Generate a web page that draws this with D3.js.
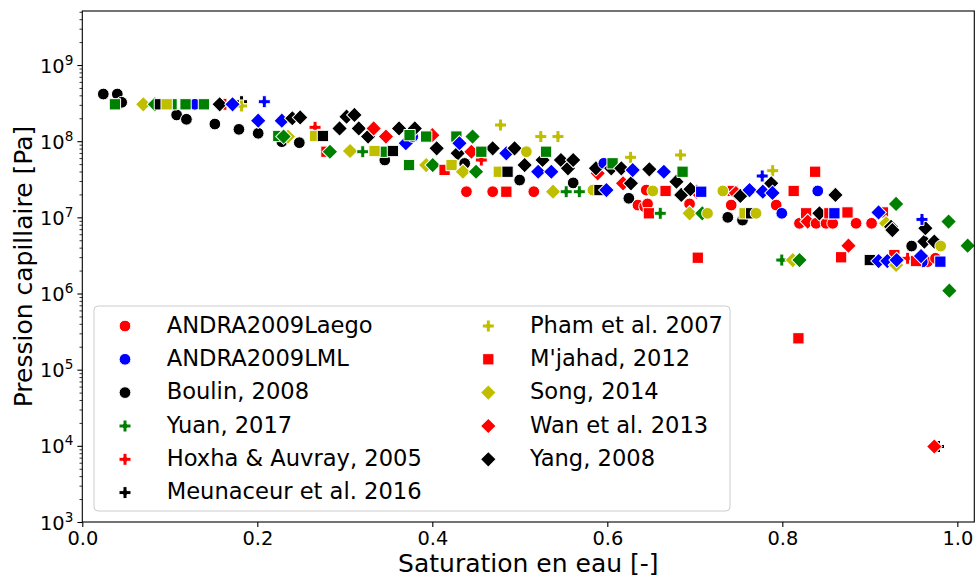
<!DOCTYPE html>
<html><head><meta charset="utf-8">
<script src="https://cdn.jsdelivr.net/npm/d3@7"></script>
<style>body{margin:0;background:#fff;} svg{display:block;font-family:"DejaVu Sans",sans-serif;}</style>
</head><body><svg id="c" width="977" height="578"></svg>
<script>
// ---------- data: [saturation, pressure Pa] ----------
const ANDRA2009Laego = [[0.439,2.17e7],[0.469,2.17e7],[0.516,2.17e7],[0.6445,2.28e7],[0.635,1.45e7],[0.646,1.5e7],[0.6426,1.38e7],[0.694,1.5e7],[0.7416,1.45e7],[0.793,1.45e7],[0.8196,8.35e6],[0.8386,8.35e6],[0.850,8.35e6],[0.8576,8.35e6],[0.8843,8.35e6],[0.902,8.35e6],[0.966,2.62e6],[0.975,2.9e6]];
const ANDRA2009LML = [[0.1287,3.05e8],[0.3776,1.15e8],[0.596,5.12e7],[0.7994,1.13e7],[0.8405,2.22e7],[0.960,2.6e6]];
const Boulin2008 = [[0.024,4.16e8],[0.040,4.16e8],[0.045,3.24e8],[0.1078,2.21e8],[0.119,1.94e8],[0.1515,1.68e8],[0.179,1.43e8],[0.201,1.27e8],[0.228,9.85e7],[0.248,9.55e7],[0.3457,5.66e7],[0.437,5.1e7],[0.4998,3.09e7],[0.561,2.83e7],[0.6246,1.78e7],[0.7377,1.0e7],[0.7545,9.2e6],[0.9478,4.2e6]];
const Yuan2017 = [[0.3205,7.27e7],[0.553,2.17e7],[0.568,2.17e7],[0.6605,1.13e7],[0.7994,2.75e6]];
const Hoxha2005 = [[0.163,3.05e8],[0.266,1.52e8],[0.456,5.66e7],[0.9432,2.9e6]];
const Meunaceur2016 = [[0.182,3.3e8],[0.9785,9.8e3]];
const Pham2007 = [[0.182,2.9e8],[0.478,1.63e8],[0.524,1.15e8],[0.5436,1.15e8],[0.6266,6.14e7],[0.6837,6.58e7],[0.789,4.1e7]];
const Mjahad2012 = [[0.279,7.27e7],[0.414,4.2e7],[0.4846,2.17e7],[0.6475,1.13e7],[0.6666,2.22e7],[0.7034,2.95e6],[0.7434,2.22e7],[0.813,2.22e7],[0.8375,3.97e7],[0.8272,1.13e7],[0.8538,1.13e7],[0.8745,1.16e7],[0.8672,2.99e6],[0.915,1.16e7],[0.928,3.2e6],[0.9528,2.67e6],[0.8184,2.58e5]];
const Song2014 = [[0.0697,3.05e8],[0.235,1.15e8],[0.306,7.43e7],[0.393,4.86e7],[0.435,3.97e7],[0.538,2.17e7],[0.694,1.13e7],[0.812,2.75e6],[0.9186,8.35e6],[0.930,2.37e6]];
const Wan2013 = [[0.333,1.47e8],[0.347,1.15e8],[0.400,1.2e8],[0.4447,7.27e7],[0.589,3.78e7],[0.618,2.8e7],[0.702,2.17e7],[0.747,2.08e7],[0.829,8.8e6],[0.8756,4.25e6],[0.9737,9.8e3]];
const Yang2008 = [[0.157,3.05e8],[0.240,2.0e8],[0.249,2.05e8],[0.294,1.47e8],[0.302,2.1e8],[0.311,2.21e8],[0.316,1.47e8],[0.3266,1.15e8],[0.362,1.47e8],[0.380,1.47e8],[0.405,8.06e7],[0.429,6.93e7],[0.469,8.06e7],[0.494,8.06e7],[0.5055,4.86e7],[0.526,5.66e7],[0.547,5.66e7],[0.555,4.4e7],[0.561,5.66e7],[0.587,4.4e7],[0.6045,4.4e7],[0.616,4.4e7],[0.627,2.8e7],[0.648,4.27e7],[0.679,2.94e7],[0.6845,1.97e7],[0.695,2.34e7],[0.752,1.91e7],[0.7873,2.8e7],[0.8424,1.13e7],[0.8607,1.97e7],[0.9243,7.5e6],[0.9258,6.8e6],[0.9635,7.2e6],[0.9623,4.8e6],[0.9737,4.8e6]];
// series present in the plot but not in the legend
const greenSquares = [[0.0373,3.05e8],[0.102,3.05e8],[0.118,3.05e8],[0.139,3.05e8],[0.224,1.17e8],[0.343,7.27e7],[0.3734,4.86e7],[0.374,1.2e8],[0.393,1.15e8],[0.4275,1.15e8],[0.456,7.27e7],[0.530,7.27e7],[0.606,5.12e7],[0.686,3.97e7]];
const greenDiamonds = [[0.083,3.05e8],[0.230,1.15e8],[0.283,7.27e7],[0.4005,4.86e7],[0.446,1.15e8],[0.450,3.97e7],[0.7085,1.13e7],[0.8196,2.75e6],[0.930,1.5e7],[0.990,8.8e6],[1.0118,4.25e6],[0.9909,1.09e6]];
const oliveSquares = [[0.0964,3.05e8],[0.266,1.17e8],[0.334,7.43e7],[0.422,4.86e7],[0.476,3.97e7],[0.7568,1.13e7]];
const blackSquares = [[0.0887,3.05e8],[0.275,1.17e8],[0.355,7.43e7],[0.486,3.97e7],[0.591,2.28e7],[0.7644,1.13e7],[0.900,2.75e6]];
const blueSquares = [[0.7073,2.17e7],[0.8595,1.13e7],[0.9806,2.62e6]];
const blueDiamonds = [[0.1717,3.05e8],[0.201,1.86e8],[0.228,1.86e8],[0.3697,9.4e7],[0.431,9.4e7],[0.4846,6.93e7],[0.521,3.97e7],[0.536,3.97e7],[0.599,2.28e7],[0.629,4.18e7],[0.6646,3.97e7],[0.7625,2.28e7],[0.7777,2.17e7],[0.7888,2.09e7],[0.910,1.16e7],[0.910,2.67e6],[0.920,2.67e6],[0.9307,2.75e6],[0.9585,3.1e6]];
const bluePluses = [[0.208,3.3e8],[0.777,3.49e7],[0.9596,9.4e6]];
const oliveCircles = [[0.5075,7.27e7],[0.5835,2.28e7],[0.652,2.22e7],[0.7145,1.13e7],[0.732,2.22e7],[0.770,1.13e7],[0.981,4.2e6]];

const legendLabels = ["ANDRA2009Laego","ANDRA2009LML","Boulin, 2008","Yuan, 2017","Hoxha & Auvray, 2005","Meunaceur et al. 2016","Pham et al. 2007","M'jahad, 2012","Song, 2014","Wan et al. 2013","Yang, 2008"];
const legendData = [ANDRA2009Laego,ANDRA2009LML,Boulin2008,Yuan2017,Hoxha2005,Meunaceur2016,Pham2007,Mjahad2012,Song2014,Wan2013,Yang2008];
const extraData = [greenSquares,greenDiamonds,oliveSquares,blackSquares,blueSquares,blueDiamonds,bluePluses,oliveCircles];
const xTicks = [0,0.2,0.4,0.6,0.8,1.0];
const yTicks = [1e3,1e4,1e5,1e6,1e7,1e8,1e9];

// ---------- styles ----------
const RED="#ff0000",BLUE="#0000ff",BLK="#000000",GRN="#008000",OLV="#bfbf00";
const legendStyles = [[RED,"o"],[BLUE,"o"],[BLK,"o"],[GRN,"P"],[RED,"P"],[BLK,"P"],[OLV,"P"],[RED,"s"],[OLV,"D"],[RED,"D"],[BLK,"D"]];
const extraStyles = [[GRN,"s"],[GRN,"D"],[OLV,"s"],[BLK,"s"],[BLUE,"s"],[BLUE,"D"],[BLUE,"P"],[OLV,"o"]];

const svg = d3.select("#c");
const L=82.3,R=974.3,T=11,B=522;
const x = d3.scaleLinear().domain([0,1.0194]).range([L,R]);
const y = d3.scaleLog().domain([1e3,5.12e9]).range([B,T]);

const shapes = {
  o: d3.symbol().type(d3.symbolCircle).size(108)(),
  s: d3.symbol().type(d3.symbolSquare).size(128)(),
  D: d3.symbol().type(d3.symbolSquare).size(122)(),
  P: d3.symbol().type(d3.symbolCross).size(80)()
};
function drawMarker(g, cx, cy, color, m){
  g.append("path").attr("d",shapes[m])
   .attr("transform",`translate(${cx},${cy})`+(m==="D"?" rotate(45)":""))
   .attr("fill",color).attr("stroke","#fff").attr("stroke-width",1);
}

// points (sorted by saturation, ties broken by series order)
const pts = svg.append("g");
const all = [];
legendData.forEach((d,i)=>d.forEach(p=>all.push([p,legendStyles[i],i])));
extraData.forEach((d,i)=>d.forEach(p=>all.push([p,extraStyles[i],20+i])));
all.sort((a,b)=>(Math.round(a[0][0]*50)-Math.round(b[0][0]*50))||(a[2]-b[2])||(a[0][0]-b[0][0]));
all.forEach(([p,st])=>drawMarker(pts,x(p[0]),y(p[1]),st[0],st[1]));

// axes
const xAxis = svg.append("g").attr("transform",`translate(0,${B})`)
  .call(d3.axisBottom(x).tickValues(xTicks).tickFormat(d3.format(".1f")).tickSize(4.9).tickPadding(4));
xAxis.select(".domain").remove();
xAxis.selectAll("text").attr("font-size","19.4px").attr("font-family","DejaVu Sans").attr("fill","#000");
xAxis.selectAll("line").attr("stroke","#000").attr("stroke-width",1.1);

const minor=[];
for(let e=3;e<=9;e++) for(let k=2;k<=9;k++){const v=k*Math.pow(10,e); if(v<=5.12e9) minor.push(v);}
const yMinor = svg.append("g").attr("transform",`translate(${L},0)`)
  .call(d3.axisLeft(y).tickValues(minor).tickFormat("").tickSize(2.8));
yMinor.select(".domain").remove();
yMinor.selectAll("line").attr("stroke","#000").attr("stroke-width",0.8);

const yAxis = svg.append("g").attr("transform",`translate(${L},0)`)
  .call(d3.axisLeft(y).tickValues(yTicks).tickFormat("").tickSize(4.9));
yAxis.select(".domain").remove();
yAxis.selectAll("line").attr("stroke","#000").attr("stroke-width",1.1);
yAxis.selectAll(".tick").each(function(d){
  const t = d3.select(this).append("text").attr("x",-9).attr("y",7).attr("text-anchor","end")
    .attr("font-size","19.4px").attr("font-family","DejaVu Sans").attr("fill","#000");
  t.append("tspan").text("10");
  t.append("tspan").attr("dy",-8).attr("font-size","13.6px").text(Math.round(Math.log10(d)));
});

// spines
svg.append("rect").attr("x",L).attr("y",T).attr("width",R-L).attr("height",B-T)
  .attr("fill","none").attr("stroke","#000").attr("stroke-width",1.1);

// axis titles
svg.append("text").attr("x",(L+R)/2).attr("y",572).attr("text-anchor","middle")
  .attr("font-size","25px").text("Saturation en eau [-]");
svg.append("text").attr("transform",`translate(31.5,${(T+B)/2}) rotate(-90)`).attr("text-anchor","middle")
  .attr("font-size","25px").text("Pression capillaire [Pa]");

// legend
const lg = svg.append("g");
lg.append("rect").attr("x",94).attr("y",306).attr("width",636).attr("height",205).attr("rx",4)
  .attr("fill","#fff").attr("fill-opacity",0.8).attr("stroke","#cccccc").attr("stroke-width",1);
const rows=[326,359.3,392.6,426,459.3,492.6];
legendLabels.forEach((lab,i)=>{
  const col = i<6?0:1, r = i<6?i:i-6;
  const mx = col===0?125:488.3, tx = col===0?166.7:530;
  drawMarker(lg,mx,rows[r],legendStyles[i][0],legendStyles[i][1]);
  lg.append("text").attr("x",tx).attr("y",rows[r]+6.5).attr("font-size","22.6px").attr("fill","#000").text(lab);
});
</script></body></html>
